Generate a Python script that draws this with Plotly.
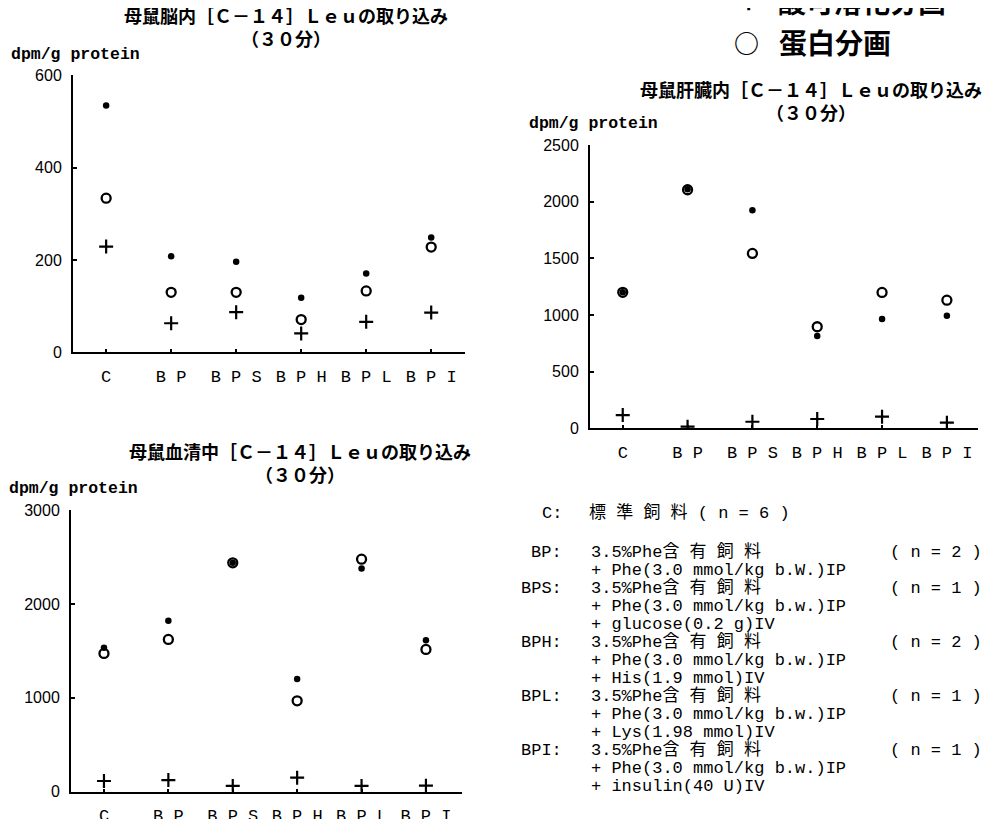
import plotly.graph_objects as go

W, H = 998, 819

# ---------------- data ----------------
categories = ["C", "BP", "BPS", "BPH", "BPL", "BPI"]
cat_labels = ["C", "B P", "B P S", "B P H", "B P L", "B P I"]

brain_total = [535, 208, 196, 118, 171, 249]
brain_protein = [334, 130, 130, 71, 133, 228]
brain_acid = [229, 63, 87, 41, 66, 86]

liver_total = [1200, 2110, 1925, 814, 964, 993]
liver_protein = [1200, 2105, 1543, 896, 1199, 1131]
liver_acid = [117, 14, 58, 82, 103, 50]

serum_total = [1532, 1820, 2437, 1199, 2377, 1614]
serum_protein = [1473, 1622, 2437, 968, 2476, 1515]
serum_acid = [114, 124, 61, 149, 61, 64]

brain_ticks = [0, 200, 400, 600]
liver_ticks = [0, 500, 1000, 1500, 2000, 2500]
serum_ticks = [0, 1000, 2000, 3000]

title_brain = ["母鼠脳内［Ｃ－１４］Ｌｅｕの取り込み", "（３０分）"]
title_liver = ["母鼠肝臓内［Ｃ－１４］Ｌｅｕの取り込み", "（３０分）"]
title_serum = ["母鼠血清中［Ｃ－１４］Ｌｅｕの取り込み", "（３０分）"]
unit_label = "dpm/g protein"

legend_acid = "酸可溶化分画"
legend_protein = "蛋白分画"

note_labels = ["C:", "BP:", "BPS:", "BPH:", "BPL:", "BPI:"]
note_first = ["標 準 飼 料", "3.5%Phe含 有 飼 料", "3.5%Phe含 有 飼 料",
              "3.5%Phe含 有 飼 料", "3.5%Phe含 有 飼 料", "3.5%Phe含 有 飼 料"]
note_n = ["( n = 6 )", "( n = 2 )", "( n = 1 )", "( n = 2 )", "( n = 1 )", "( n = 1 )"]
note_extra = [
    [],
    ["+ Phe(3.0 mmol/kg b.W.)IP"],
    ["+ Phe(3.0 mmol/kg b.w.)IP", "+ glucose(0.2 g)IV"],
    ["+ Phe(3.0 mmol/kg b.w.)IP", "+ His(1.9 mmol)IV"],
    ["+ Phe(3.0 mmol/kg b.w.)IP", "+ Lys(1.98 mmol)IV"],
    ["+ Phe(3.0 mmol/kg b.w.)IP", "+ insulin(40 U)IV"],
]

# ---------------- helpers ----------------
# the page body has an 8px default margin; positions below are page pixels
OX, OY = 8, 8

def fx(px):
    return (px - OX) / W

def fy(py):
    return 1 - (py - OY) / H

CJK = "Noto Sans CJK JP"
MONO = "Liberation Mono, " + CJK
NUM = "Liberation Sans"

fig = go.Figure()

panels = [
    ("x", "y", (73, 465), (352.3, 75.4), [-0.51, 5.52], [0, 600], brain_ticks,
     brain_total, brain_protein, brain_acid),
    ("x2", "y2", (590, 978), (428.3, 145), [-0.505, 5.48], [0, 2500], liver_ticks,
     liver_total, liver_protein, liver_acid),
    ("x3", "y3", (71, 462), (791.7, 510), [-0.512, 5.56], [0, 3000], serum_ticks,
     serum_total, serum_protein, serum_acid),
]

xi = list(range(len(categories)))

for i, (xa, ya, xd, yd, xr, yr, yt, tot, prot, acid) in enumerate(panels):
    fig.add_trace(go.Scatter(x=xi, y=acid, xaxis=xa, yaxis=ya, mode="markers",
                             marker=dict(symbol="cross-thin", size=10, color="black",
                                         line=dict(width=2.2, color="black")),
                             showlegend=False, hoverinfo="skip"))
    fig.add_trace(go.Scatter(x=xi, y=prot, xaxis=xa, yaxis=ya, mode="markers",
                             marker=dict(symbol="circle-open", size=9, color="black",
                                         line=dict(width=2.3, color="black")),
                             showlegend=False, hoverinfo="skip"))
    fig.add_trace(go.Scatter(x=xi, y=tot, xaxis=xa, yaxis=ya, mode="markers",
                             marker=dict(symbol="circle", size=6.5, color="black"),
                             showlegend=False, hoverinfo="skip"))
    key = "" if i == 0 else str(i + 1)
    fig.layout["xaxis" + key] = dict(
        domain=[fx(xd[0]), fx(xd[1])], range=xr, anchor=ya, automargin=False,
        tickmode="array", tickvals=xi, ticktext=cat_labels, tickangle=0,
        showline=True, linewidth=2, linecolor="black", showgrid=False, zeroline=False,
        ticks="inside", ticklen=3, tickwidth=2, tickcolor="black",
        ticklabelstandoff=7,
        tickfont=dict(family="Liberation Mono", size=17, color="black"),
    )
    fig.layout["yaxis" + key] = dict(
        domain=[fy(yd[0]), fy(yd[1])], range=yr, anchor=xa, automargin=False,
        tickmode="array", tickvals=yt,
        showline=True, linewidth=2, linecolor="black", showgrid=False, zeroline=False,
        ticks="inside", ticklen=4, tickwidth=1.5, tickcolor="black",
        ticklabelstandoff=6,
        tickfont=dict(family=NUM, size=16, color="black"),
    )

annotations = []

def text(x, y, s, size, family, xanchor="center", bold=False):
    if bold:
        s = "<b>" + s + "</b>"
    annotations.append(dict(x=fx(x), y=fy(y), xref="paper", yref="paper", text=s,
                            showarrow=False, xanchor=xanchor, yanchor="middle",
                            borderpad=0,
                            font=dict(family=family, size=size, color="black")))

# titles (two lines each)
for (t, (cx, cy)) in [
    (title_brain, (286, 26)),
    (title_liver, (811, 100)),
    (title_serum, (300, 462)),
]:
    text(cx, cy, "<b>" + t[0] + "</b><br><b>" + t[1] + "</b>", 18, CJK)

# unit labels
text(10, 54, unit_label, 16.5, "Liberation Mono", xanchor="left", bold=True)
text(528, 124, unit_label, 16.5, "Liberation Mono", xanchor="left", bold=True)
text(8, 488, unit_label, 16.5, "Liberation Mono", xanchor="left", bold=True)

# legend (top right, partly cut by the page edge)
text(748, 1, "+", 26, CJK, bold=True)
text(777, 1, legend_acid, 28, CJK, xanchor="left", bold=True)
text(746, 42, "○", 25, CJK, bold=True)
text(778, 42, legend_protein, 28, CJK, xanchor="left", bold=True)

# notes block
y = 513
for k, lab in enumerate(note_labels):
    if k == 1:
        y = 552
    text(563, y, lab, 17, MONO, xanchor="right")
    if k == 0:
        text(588, y, note_first[k] + " " + note_n[k], 17, MONO, xanchor="left")
    else:
        text(590, y, note_first[k], 17, MONO, xanchor="left")
        text(983, y, note_n[k], 17, MONO, xanchor="right")
    for line in note_extra[k]:
        y += 18
        text(590, y, line, 17, MONO, xanchor="left")
    y += 18

fig.update_layout(
    width=W, height=H, margin=dict(l=0, r=0, t=0, b=0),
    paper_bgcolor="white", plot_bgcolor="white",
    annotations=annotations, showlegend=False,
)

fig.write_html("out.html")
